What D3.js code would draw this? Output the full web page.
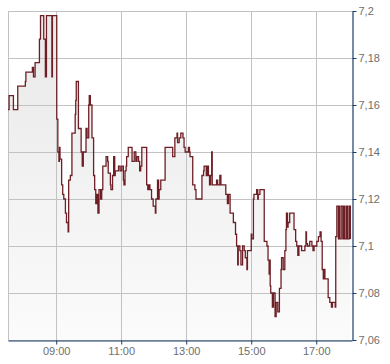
<!DOCTYPE html>
<html><head><meta charset="utf-8">
<script src="https://cdn.jsdelivr.net/npm/d3@7"></script>
<style>body{margin:0;background:#fff}svg{display:block}</style>
</head><body><svg id="c" width="390" height="364"></svg>
<script>
const times = [
"07:31","07:33","07:41","07:49","08:03","08:04","08:16","08:18","08:21","08:29","08:31","08:37","08:40","08:42","08:52","08:53",
"09:01","09:03","09:05","09:06","09:07","09:10","09:12","09:14","09:17","09:19","09:22","09:23","09:26","09:29","09:35","09:36","09:37","09:41","09:46","09:48","09:50","09:55","09:57",
"10:00","10:01","10:03","10:06","10:09","10:11","10:13","10:15","10:17","10:19","10:22","10:24","10:26","10:32","10:35","10:36","10:40","10:41","10:44","10:46","10:48","10:49","10:55","10:58",
"11:01","11:04","11:05","11:07","11:09","11:10","11:13","11:20","11:24","11:27","11:29","11:32","11:34","11:36","11:38","11:47","11:49","11:51","11:53","11:56","11:59",
"12:03","12:04","12:07","12:09","12:10","12:13","12:21","12:35","12:39","12:43","12:44","12:47","12:50","12:54","12:56","12:58",
"13:04","13:06","13:07","13:12","13:16","13:18","13:29","13:32","13:33","13:37","13:39","13:41","13:43","13:45","13:47","13:48","13:56","13:58",
"14:02","14:04","14:13","14:16","14:18","14:21","14:27","14:31","14:33","14:35","14:36","14:39","14:41","14:44","14:47","14:49","14:52","14:53",
"15:00","15:01","15:04","15:05","15:10","15:12","15:13","15:16","15:24","15:29","15:31","15:33","15:34","15:35","15:36","15:39","15:41","15:44","15:46","15:49","15:52","15:55","15:56","15:59",
"16:02","16:04","16:05","16:07","16:08","16:11","16:19","16:22","16:24","16:26","16:28","16:33","16:39","16:41","16:42","16:44","16:48","16:52","16:54","16:56",
"17:01","17:04","17:07","17:09","17:11","17:13","17:14","17:16","17:22","17:25","17:28","17:30","17:35","17:36","17:38","17:41","17:42","17:43","17:46","17:49","17:51","17:53","17:56","17:58",
"18:01","18:03"
];
const prices = [
7.158,7.164,7.158,7.168,7.170,7.174,7.176,7.172,7.178,7.188,7.198,7.188,7.172,7.198,7.172,7.198,
7.154,7.140,7.136,7.142,7.137,7.126,7.122,7.120,7.114,7.110,7.106,7.128,7.130,7.148,7.156,7.162,7.170,7.150,7.140,7.134,7.140,7.150,7.146,
7.160,7.164,7.160,7.146,7.130,7.124,7.118,7.122,7.114,7.124,7.120,7.124,7.134,7.138,7.136,7.131,7.126,7.124,7.130,7.138,7.130,7.132,7.134,7.132,
7.134,7.128,7.126,7.132,7.134,7.138,7.142,7.136,7.140,7.136,7.138,7.136,7.132,7.134,7.142,7.126,7.124,7.126,7.124,7.120,7.117,
7.114,7.120,7.128,7.120,7.124,7.128,7.142,7.138,7.146,7.148,7.144,7.146,7.148,7.146,7.142,7.140,
7.142,7.140,7.138,7.126,7.124,7.120,7.130,7.132,7.134,7.130,7.134,7.130,7.126,7.130,7.140,7.126,7.128,7.126,
7.130,7.126,7.122,7.118,7.122,7.114,7.110,7.105,7.100,7.092,7.100,7.098,7.092,7.100,7.098,7.095,7.090,7.098,
7.105,7.103,7.120,7.122,7.124,7.120,7.122,7.124,7.102,7.100,7.094,7.088,7.094,7.083,7.080,7.074,7.080,7.070,7.076,7.072,7.082,7.090,7.095,7.090,
7.098,7.107,7.114,7.108,7.110,7.114,7.107,7.102,7.100,7.096,7.100,7.098,7.100,7.106,7.101,7.100,7.102,7.100,7.098,7.100,
7.102,7.104,7.106,7.102,7.090,7.086,7.090,7.086,7.078,7.076,7.074,7.076,7.074,7.104,7.117,7.103,7.117,7.103,7.117,7.103,7.117,7.103,7.117,7.103,
7.117,7.103
];
const yTicks = [7.06, 7.08, 7.1, 7.12, 7.14, 7.16, 7.18, 7.2];
const xTicks = ["09:00", "11:00", "13:00", "15:00", "17:00"];
const xDomain = ["07:31", "18:06"];
const yDomain = [7.06, 7.2];

const parse = d3.timeParse("%H:%M");
const n = Math.min(times.length, prices.length);
const data = d3.range(n).map(i => ({ t: parse(times[i]), v: prices[i] }));

const L = 8, R = 352, T = 11, B = 340;
const x = d3.scaleTime().domain(xDomain.map(parse)).range([L, R]);
const y = d3.scaleLinear().domain(yDomain).range([B, T]);
const locale = d3.formatLocale({ decimal: ",", thousands: ".", grouping: [3], currency: ["", "€"] });
const fmt = locale.format(".2~f");

const svg = d3.select("#c");
const defs = svg.append("defs");
const grad = defs.append("linearGradient").attr("id", "g")
  .attr("gradientUnits", "userSpaceOnUse").attr("x1", 0).attr("x2", 0).attr("y1", T).attr("y2", B);
grad.append("stop").attr("offset", 0).attr("stop-color", "#e8e8e8");
grad.append("stop").attr("offset", 1).attr("stop-color", "#fbfbfb");
defs.append("clipPath").attr("id", "clip").append("rect")
  .attr("x", L).attr("y", T - 2).attr("width", R - L).attr("height", B - T + 2);

const area = d3.area().curve(d3.curveStepAfter)
  .x(d => x(d.t)).y0(B).y1(d => y(d.v));
svg.append("path").datum(data).attr("d", area)
  .attr("fill", "url(#g)").attr("clip-path", "url(#clip)");

// grid
const grid = svg.append("g").attr("stroke", "#c2c2c2").attr("stroke-width", 1).attr("shape-rendering", "crispEdges");
grid.selectAll("line.h").data(yTicks).join("line").attr("class", "h")
  .attr("x1", L).attr("x2", R).attr("y1", d => Math.round(y(d)) + 0.5).attr("y2", d => Math.round(y(d)) + 0.5);
grid.selectAll("line.v").data(xTicks.map(parse)).join("line").attr("class", "v")
  .attr("y1", T).attr("y2", B).attr("x1", d => Math.round(x(d)) + 0.5).attr("x2", d => Math.round(x(d)) + 0.5);
grid.append("line").attr("x1", L + 0.5).attr("x2", L + 0.5).attr("y1", T).attr("y2", B);

const line = d3.line().curve(d3.curveStepAfter).x(d => x(d.t)).y(d => y(d.v));
svg.append("path").datum(data).attr("d", line)
  .attr("fill", "none").attr("stroke", "#6e1f25").attr("stroke-width", 1.3)
  .attr("clip-path", "url(#clip)");

const axisColor = "#1d3c6a";
const ya = svg.append("g").attr("transform", `translate(${R + 0.5},0)`)
  .call(d3.axisRight(y).tickValues(yTicks).tickFormat(fmt).tickSize(4).tickSizeOuter(0).tickPadding(2));
const xa = svg.append("g").attr("transform", `translate(0,${B + 0.5})`)
  .call(d3.axisBottom(x).tickValues(xTicks.map(parse)).tickFormat(d3.timeFormat("%H:%M")).tickSize(4).tickSizeOuter(0).tickPadding(3));
[ya, xa].forEach(g => {
  g.select(".domain").attr("stroke", axisColor).attr("stroke-width", 1.2);
  g.selectAll(".tick line").attr("stroke", axisColor);
  g.selectAll(".tick text").attr("fill", "#6e6e6e")
    .style("font-family", "'Liberation Sans', Arial, sans-serif").style("font-size", "11px");
});
</script>
</body></html>
